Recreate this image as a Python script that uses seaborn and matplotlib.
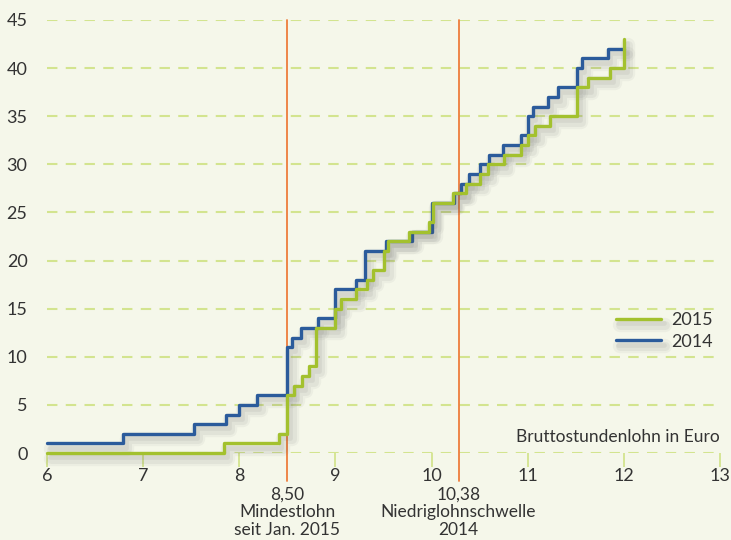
import seaborn as sns
import matplotlib.pyplot as plt
import matplotlib.patheffects as pe
import pandas as pd

# =========================
# data (step starts, hourly wage in Euro)
# =========================

wage_2015 = [6, 7.84, 8.41, 8.5, 8.57, 8.65, 8.73, 8.80, 9.0, 9.06, 9.21, 9.33,
             9.39, 9.51, 9.55, 9.76, 9.97, 10.01, 10.22, 10.36, 10.50, 10.59,
             10.75, 10.93, 11.0, 11.08, 11.23, 11.51, 11.63, 11.86, 12.0]
share_2015 = [0, 1, 2, 6, 7, 8, 9, 13, 15, 16, 17, 18, 19, 21, 22, 23, 24, 26,
              27, 28, 29, 30, 31, 32, 33, 34, 35, 38, 39, 40, 43]

wage_2014 = [6, 6.79, 7.53, 7.86, 8.0, 8.18, 8.5, 8.55, 8.64, 8.82, 9.0, 9.21,
             9.31, 9.53, 9.80, 10.0, 10.23, 10.31, 10.39, 10.5, 10.6, 10.74,
             10.93, 11.0, 11.05, 11.21, 11.31, 11.51, 11.56, 11.83, 12.0]
share_2014 = [1, 2, 3, 4, 5, 6, 11, 12, 13, 14, 17, 18, 21, 22, 23, 26, 27, 28,
              29, 30, 31, 32, 33, 35, 36, 37, 38, 40, 41, 42, 42]

# where the orange markers sit in the picture (the 10,38 one is drawn near 10.28)
marker_x = [8.5, 10.28]
marker_labels = ["8,50\nMindestlohn\nseit Jan. 2015", "10,38\nNiedriglohnschwelle\n2014"]

x_ticks = [6, 7, 8, 9, 10, 11, 12, 13]
y_ticks = [0, 5, 10, 15, 20, 25, 30, 35, 40, 45]

BG = "#f5f7ea"
GREEN = "#a3c12e"
BLUE = "#2b5b9b"
ORANGE = "#ee7d3b"
GRID = "#d3e48f"
TEXT = "#333333"
FS = 12.5

sns.set_theme(style="white")
plt.rcParams["font.family"] = ["Lato", "DejaVu Sans"]

df15 = pd.DataFrame({"wage": wage_2015, "share": share_2015})
df14 = pd.DataFrame({"wage": wage_2014, "share": share_2014})

fig = plt.figure(figsize=(7.31, 5.4), dpi=100, facecolor=BG)
ax = fig.add_axes([0.0643, 0.1611, 0.9207, 0.8019])
ax.set_facecolor(BG)


def shadow(lw):
    return [
        pe.SimpleLineShadow(offset=(3, -4), shadow_color="#555555", alpha=0.05, linewidth=lw + 8),
        pe.SimpleLineShadow(offset=(3, -4), shadow_color="#555555", alpha=0.07, linewidth=lw + 4),
        pe.SimpleLineShadow(offset=(2, -3), shadow_color="#555555", alpha=0.08, linewidth=lw + 1),
        pe.Normal(),
    ]


for x in marker_x:
    ax.plot([x, x], [-2.9, 45], color=ORANGE, lw=1.3, clip_on=False, zorder=2)

sns.lineplot(data=df14, x="wage", y="share", drawstyle="steps-post", estimator=None,
             sort=False, color=BLUE, lw=2.4, label="2014", ax=ax, zorder=4,
             path_effects=shadow(2.4), clip_on=False)
sns.lineplot(data=df15, x="wage", y="share", drawstyle="steps-post", estimator=None,
             sort=False, color=GREEN, lw=2.4, label="2015", ax=ax, zorder=5,
             path_effects=shadow(2.4), clip_on=False)

ax.set_xlim(6, 13)
ax.set_ylim(0, 45)
ax.set_xticks(x_ticks)
ax.set_yticks(y_ticks)
ax.set_xlabel("")
ax.set_ylabel("")
for s in ax.spines.values():
    s.set_visible(False)

ax.yaxis.grid(True, color=GRID, lw=1.5, ls=(0, (5, 4)), zorder=1)
ax.xaxis.grid(False)
ax.tick_params(axis="x", length=10, width=1.3, color=GRID, direction="out",
               pad=1, labelsize=13, labelcolor=TEXT, bottom=True)
ax.tick_params(axis="y", length=0, pad=14, labelsize=13, labelcolor=TEXT)
for t in ax.get_yticklabels():
    t.set_horizontalalignment("right")

for x, lab in zip(marker_x, marker_labels):
    ax.text(x, -3.45, lab, ha="center", va="top", fontsize=FS, color=TEXT,
            linespacing=1.15, clip_on=False)

ax.text(13, 1.65, "Bruttostundenlohn in Euro", ha="right", va="center",
        fontsize=FS, color=TEXT)

handles, labels = ax.get_legend_handles_labels()
order = [labels.index("2015"), labels.index("2014")]
ax.legend([handles[i] for i in order], [labels[i] for i in order],
          loc="upper left", bbox_to_anchor=(0.845, 0.325), frameon=False,
          fontsize=13, handlelength=2.5, handletextpad=0.6, labelspacing=0.3,
          borderpad=0, borderaxespad=0, labelcolor=TEXT)

fig.savefig("out.png", dpi=100, facecolor=BG)
